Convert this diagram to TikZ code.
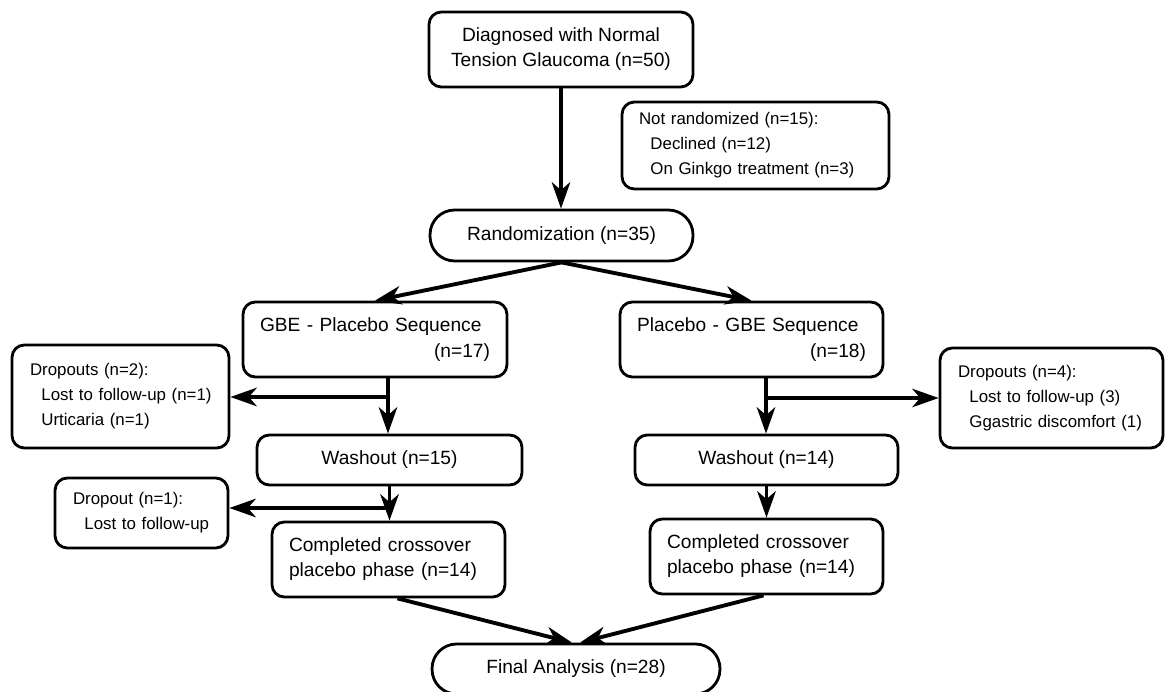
\documentclass[tikz,border=0pt]{standalone}
\usepackage{fontspec}
\setmainfont{Liberation Sans}
\usetikzlibrary{arrows.meta,calc}
\newcommand{\indnt}{\hspace*{6.5pt}}

\begin{document}
\begin{tikzpicture}[x=0.02cm, y=-0.02cm,
    box/.style={draw, line width=1.6pt, rounded corners=7pt, inner xsep=0pt,
      font=\fontsize{10.9}{14.2}\selectfont},
    leftbox/.style={box, align=left},
    sidebox/.style={box, align=left, font=\fontsize{9.6}{14.2}\selectfont},
    pill/.style={box, rounded corners=14pt},
    flow/.style={line width=2.2pt, -{Stealth[length=15pt,width=10.5pt,inset=4.5pt]}}]
    \useasboundingbox (0,0) rectangle (1167,692);

    % top of the chart
    \node[box, align=center, minimum width=5.28cm, minimum height=1.5cm] (diag) at (561,49.5)
        {Diagnosed with Normal\\Tension Glaucoma (n=50)};
    \node[sidebox, text width=4.66cm,
          minimum width=5.34cm, minimum height=1.74cm] (notrand) at (755.5,145.5)
        {Not randomized (n=15):\\\indnt Declined (n=12)\\\indnt On Ginkgo treatment (n=3)};
    \node[pill, minimum width=5.26cm, minimum height=1.02cm] (rand) at (561.5,235.5)
        {Randomization (n=35)};

    % the two sequences
    \node[leftbox, text width=4.6cm, font=\fontsize{10.9}{14.7}\selectfont,
          minimum width=5.28cm, minimum height=1.5cm] (gbe) at (375,339.5)
        {GBE - Placebo Sequence\\\hspace*{\fill}(n=17)\hspace*{7pt}};
    \node[leftbox, text width=4.58cm, font=\fontsize{10.9}{14.7}\selectfont,
          minimum width=5.26cm, minimum height=1.5cm] (plac) at (751.5,339.5)
        {Placebo - GBE Sequence\\\hspace*{\fill}(n=18)\hspace*{7pt}};

    \node[sidebox, text width=3.62cm, minimum width=4.34cm, minimum height=2.06cm] (dropL) at (120.5,396.5)
        {Dropouts (n=2):\\\indnt\mbox{Lost to follow-up (n=1)}\\\indnt Urticaria (n=1)};
    \node[sidebox, text width=3.74cm, minimum width=4.46cm, minimum height=2.0cm] (dropR) at (1051.5,398)
        {Dropouts (n=4):\\\indnt Lost to follow-up (3)\\\indnt Ggastric discomfort (1)};

    \node[box, minimum width=5.3cm, minimum height=1.0cm] (washL) at (389.5,460) {Washout (n=15)};
    \node[box, minimum width=5.26cm, minimum height=1.0cm] (washR) at (766.5,460) {Washout (n=14)};

    \node[sidebox, text width=2.74cm, minimum width=3.46cm, minimum height=1.4cm] (drop1) at (141.5,513)
        {Dropout (n=1):\\\indnt Lost to follow-up};

    \node[leftbox, text width=3.98cm, minimum width=4.66cm, minimum height=1.5cm] (compL) at (388.5,559.5)
        {Completed crossover\\placebo phase (n=14)};
    \node[leftbox, text width=3.98cm, minimum width=4.66cm, minimum height=1.5cm] (compR) at (766.5,556.5)
        {Completed crossover\\placebo phase (n=14)};

    \node[pill, minimum width=5.76cm, minimum height=1.0cm] (final) at (576,669) {Final Analysis (n=28)};

    % connectors
    \draw[flow] (diag.south) -- (diag.south |- rand.north);
    \draw[flow] (rand.south) -- (gbe.north);
    \draw[flow] (rand.south) -- (plac.north);

    \coordinate (splitL) at (388,397);   % where the left dropouts branch off
    \coordinate (splitR) at (766,398);
    \draw[flow] (splitL |- gbe.south) -- (splitL |- washL.north);
    \draw[flow] (splitL) -- (dropL.east |- splitL);
    \draw[flow] (splitR |- plac.south) -- (splitR |- washR.north);
    \draw[flow] (splitR) -- (dropR.west |- splitR);

    \coordinate (dropoff) at (389,508);
    \draw[flow] (washL.south) -- (washL.south |- compL.north);
    \draw[flow] (dropoff) -- (drop1.east |- dropoff);
    \draw[flow] (washR.south) -- (washR.south |- compR.north);

    \draw[flow] ($(compL.south)+(9,0)$) -- ($(final.north)+(-4,0)$);
    \draw[flow] ($(compR.south)+(-3,0)$) -- ($(final.north)+(4,0)$);
\end{tikzpicture}
\end{document}
